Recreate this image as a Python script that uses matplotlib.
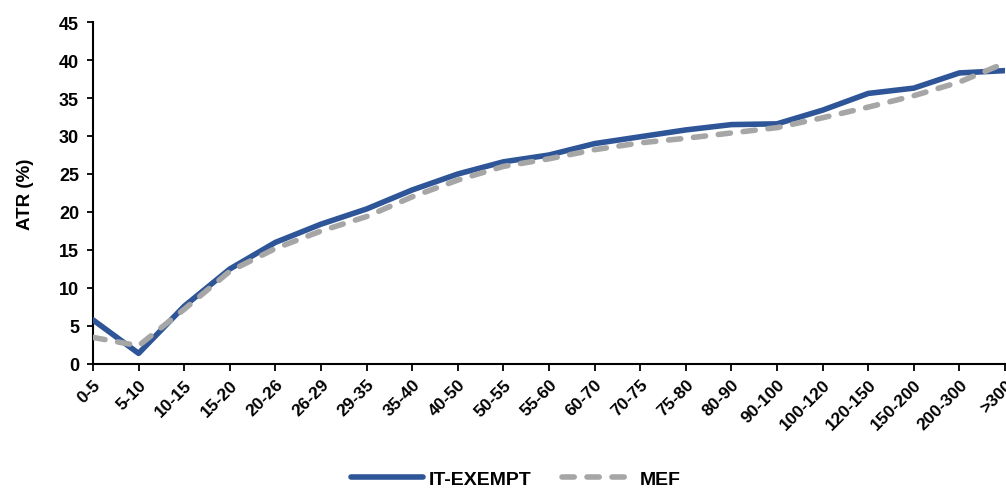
import matplotlib.pyplot as plt

plt.rcParams['font.family'] = ['Liberation Sans', 'DejaVu Sans']
plt.rcParams['font.weight'] = 'bold'

# income brackets
categories = ['0-5', '5-10', '10-15', '15-20', '20-26', '26-29', '29-35', '35-40',
              '40-50', '50-55', '55-60', '60-70', '70-75', '75-80', '80-90',
              '90-100', '100-120', '120-150', '150-200', '200-300', '>300']

# ATR (%) per bracket
it_exempt = [5.8, 1.4, 7.6, 12.5, 16.0, 18.4, 20.4, 22.9, 25.0, 26.6, 27.5,
             29.0, 29.9, 30.8, 31.5, 31.6, 33.4, 35.6, 36.3, 38.3, 38.6]
mef = [3.5, 2.4, 7.2, 12.2, 15.2, 17.5, 19.4, 22.0, 24.2, 26.0, 27.0,
       28.2, 29.1, 29.7, 30.4, 31.1, 32.4, 33.8, 35.3, 37.1, 39.6]

fig = plt.figure(figsize=(10.06, 4.89), dpi=100)
ax = fig.add_axes([93 / 1006, 1 - 365 / 489, (1005 - 93) / 1006, (365 - 23) / 489])

x = list(range(len(categories)))
ax.plot(x, it_exempt, color='#2E5597', lw=4, label='IT-EXEMPT', zorder=3,
        solid_joinstyle='round', solid_capstyle='round')
ax.plot(x, mef, color='#A6A6A6', lw=4, ls=(0, (2.2, 2.3)), label='MEF', zorder=4,
        dash_capstyle='round')

ax.set_xlim(0, len(categories) - 1)
ax.set_ylim(0, 45)
ax.set_yticks(range(0, 46, 5))
ax.set_xticks(x)
ax.set_xticklabels(categories, rotation=45, ha='right', rotation_mode='anchor',
                   fontsize=12.5)
ax.tick_params(axis='y', length=4, width=1.3, direction='out', labelsize=13, pad=6)
ax.tick_params(axis='x', length=5, width=1.3, direction='out', pad=4)
ax.set_ylabel('ATR (%)', fontsize=13.5, fontweight='bold', labelpad=18)

for s in ['top', 'right']:
    ax.spines[s].set_visible(False)
for s in ['left', 'bottom']:
    ax.spines[s].set_linewidth(1.5)
    ax.spines[s].set_color('black')

leg = fig.legend(loc='center', bbox_to_anchor=(0.513, 0.018), ncol=2, frameon=False,
                 handlelength=3.7, handletextpad=0.3, columnspacing=1.55,
                 prop={'weight': 'bold', 'size': 14})

fig.savefig('out.png', dpi=100)
